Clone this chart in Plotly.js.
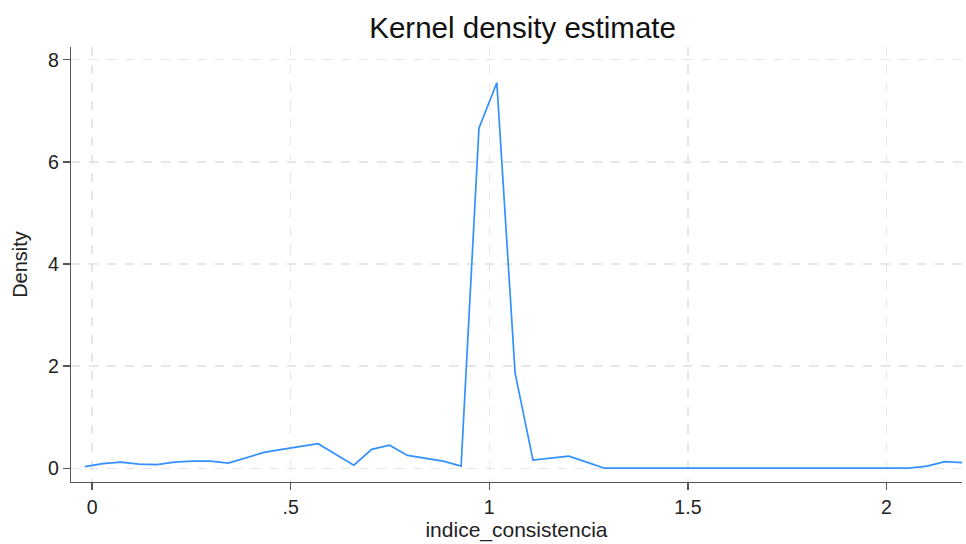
<!DOCTYPE html>
<html>
<head>
<meta charset="utf-8">
<script src="https://cdn.plot.ly/plotly-3.0.1.min.js"></script>
<style>html,body{margin:0;padding:0;background:#fff;}#chart{width:966px;height:544px;}</style>
</head>
<body>
<div id="chart"></div>
<script>
const xGrid = [-0.018, 0.027, 0.072, 0.118, 0.163, 0.208, 0.253, 0.298, 0.343, 0.388,
  0.433, 0.478, 0.524, 0.569, 0.614, 0.659, 0.704, 0.749, 0.794, 0.839,
  0.884, 0.929, 0.974, 1.019, 1.065, 1.110, 1.155, 1.200, 1.245, 1.290,
  1.335, 1.380, 1.426, 1.471, 1.516, 1.561, 1.606, 1.651, 1.696, 1.741,
  1.786, 1.831, 1.876, 1.922, 1.967, 2.012, 2.057, 2.102, 2.147, 2.192];
const density = [0.03, 0.09, 0.12, 0.08, 0.07, 0.12, 0.14, 0.14, 0.10, 0.21,
  0.31, 0.37, 0.43, 0.48, 0.27, 0.06, 0.37, 0.45, 0.25, 0.19,
  0.14, 0.04, 6.66, 7.55, 1.86, 0.16, 0.20, 0.235, 0.12, 0.0,
  0.0, 0.0, 0.0, 0.0, 0.0, 0.0, 0.0, 0.0, 0.0, 0.0,
  0.0, 0.0, 0.0, 0.0, 0.0, 0.0, 0.0, 0.04, 0.13, 0.11];
const xTickVals = [0, 0.5, 1, 1.5, 2];
const xTickText = ["0", ".5", "1", "1.5", "2"];
const yTickVals = [0, 2, 4, 6, 8];
const yTickText = ["0", "2", "4", "6", "8"];

const font = "Liberation Sans, Arial, sans-serif";
const trace = {
  x: xGrid, y: density, type: "scatter", mode: "lines",
  line: {color: "#3390ff", width: 1.7}, hoverinfo: "skip"
};
const axisCommon = {
  showline: true, linecolor: "#555", linewidth: 1.3,
  ticks: "outside", ticklen: 7, tickcolor: "#555", tickwidth: 1.3,
  showgrid: true, gridcolor: "#e6e6e6", griddash: "dash", gridwidth: 1.3,
  zeroline: false, tickfont: {family: font, size: 19.5, color: "#222"}
};
const layout = {
  width: 966, height: 544,
  margin: {l: 71, r: 4, t: 47, b: 62},
  paper_bgcolor: "#fff", plot_bgcolor: "#fff",
  showlegend: false,
  title: {text: "Kernel density estimate", x: 0.541, xanchor: "center", y: 0.9494, yanchor: "middle",
    font: {family: font, size: 29.5, color: "#111"}},
  xaxis: Object.assign({}, axisCommon, {
    range: [-0.053, 2.19], tickvals: xTickVals, ticktext: xTickText,
    title: {text: "indice_consistencia", font: {family: font, size: 21, color: "#222"}, standoff: 0}
  }),
  yaxis: Object.assign({}, axisCommon, {
    range: [-0.27, 8.25], tickvals: yTickVals, ticktext: yTickText,
    title: {text: "Density", font: {family: font, size: 20, color: "#222"}, standoff: 15}
  })
};
Plotly.newPlot("chart", [trace], layout, {displayModeBar: false, staticPlot: true});
</script>
</body>
</html>
